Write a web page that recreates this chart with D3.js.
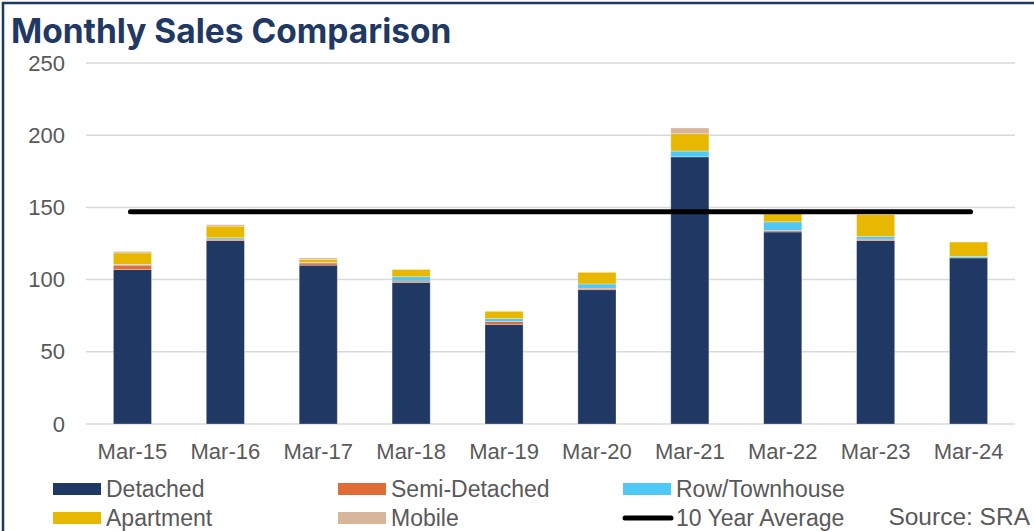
<!DOCTYPE html>
<html>
<head>
<meta charset="utf-8">
<script src="https://cdn.jsdelivr.net/npm/d3@7"></script>
<style>
  body { margin: 0; background: #fff; }
  svg { display: block; }
  .tick text { font-family: "Liberation Sans", Arial, sans-serif; font-size: 22px; fill: #595959; }
  .legend text { font-family: "Liberation Sans Narrow", "Liberation Sans", sans-serif; font-size: 23px; fill: #595959; }
</style>
</head>
<body>
<div class="chart"></div>
<script>
// data
var months = ["Mar-15", "Mar-16", "Mar-17", "Mar-18", "Mar-19", "Mar-20", "Mar-21", "Mar-22", "Mar-23", "Mar-24"];
var detached = [107, 127, 110, 98, 69, 93, 185, 133, 127, 115];
var semiDetached = [3, 1, 1.5, 1, 2, 1, 0, 1, 1, 0];
var rowTownhouse = [0.5, 1, 0.5, 3, 2, 3, 4, 6, 2, 1];
var apartment = [8, 8, 2, 5, 5, 8, 12, 6, 15, 10];
var mobile = [1, 1, 1, 0, 0, 0, 4, 0, 0, 0];
var tenYearAverage = 147;
var yTicks = [0, 50, 100, 150, 200, 250];

var seriesNames = ["Detached", "Semi-Detached", "Row/Townhouse", "Apartment", "Mobile"];
var seriesValues = [detached, semiDetached, rowTownhouse, apartment, mobile];
var colors = ["#203864", "#E06D38", "#4FC8F5", "#E8B800", "#D6B59A"];

// dimensions
var W = 1034, H = 531;
var margin = {top: 63, right: 19, bottom: 107, left: 86};
var width = W - margin.left - margin.right;
var height = H - margin.top - margin.bottom;

var svg = d3.select(".chart")
  .append("svg")
  .attr("width", W)
  .attr("height", H);

// frame
svg.append("path")
  .attr("d", "M3," + H + "V3H" + W)
  .attr("fill", "none")
  .attr("stroke", "#1F3864")
  .attr("stroke-width", 2.5);

// title
svg.append("text")
  .attr("x", 11)
  .attr("y", 43)
  .attr("font-family", "Inter, 'Noto Sans', sans-serif")
  .attr("font-weight", 700)
  .attr("font-size", 33.5)
  .attr("fill", "#1F3864")
  .text("Monthly Sales Comparison");

var chart = svg.append("g")
  .attr("transform", "translate(" + margin.left + "," + margin.top + ")");

// scales
var x = d3.scaleBand().domain(months).range([0, width]).paddingInner(0.59).paddingOuter(0.295);
var y = d3.scaleLinear().domain([0, 250]).range([height, 0]);

// gridlines
chart.append("g")
  .selectAll("line")
  .data(yTicks)
  .enter()
  .append("line")
  .attr("x1", 0)
  .attr("x2", width)
  .attr("y1", function(d) { return y(d); })
  .attr("y2", function(d) { return y(d); })
  .attr("stroke", "#D9D9D9")
  .attr("stroke-width", 1.5);

// y axis
chart.append("g")
  .call(d3.axisLeft(y).tickValues(yTicks).tickSize(0).tickPadding(21))
  .call(function(g) { g.select(".domain").remove(); });

// x axis
chart.append("g")
  .attr("transform", "translate(0," + height + ")")
  .call(d3.axisBottom(x).tickSize(0).tickPadding(19))
  .call(function(g) { g.select(".domain").remove(); });

// stacked bars
var table = months.map(function(m, i) {
  var row = {month: m};
  seriesNames.forEach(function(s, k) { row[s] = seriesValues[k][i]; });
  return row;
});
var stacked = d3.stack().keys(seriesNames)(table);

chart.selectAll(".series")
  .data(stacked)
  .enter()
  .append("g")
  .attr("fill", function(d, i) { return colors[i]; })
  .selectAll("rect")
  .data(function(d) { return d; })
  .enter()
  .append("rect")
  .attr("x", function(d) { return x(d.data.month); })
  .attr("y", function(d) { return y(d[1]); })
  .attr("width", x.bandwidth())
  .attr("height", function(d) { return y(d[0]) - y(d[1]); })
  .attr("stroke", "#ffffff")
  .attr("stroke-opacity", 0.35)
  .attr("stroke-width", 0.8);

// 10 year average line
chart.append("line")
  .attr("x1", x(months[0]) + x.bandwidth() / 2 - 2)
  .attr("x2", x(months[months.length - 1]) + x.bandwidth() / 2 + 2)
  .attr("y1", y(tenYearAverage))
  .attr("y2", y(tenYearAverage))
  .attr("stroke", "#000")
  .attr("stroke-width", 5)
  .attr("stroke-linecap", "round");

// legend
var legendItems = seriesNames.map(function(s, i) { return {name: s, color: colors[i], line: false}; });
legendItems.push({name: "10 Year Average", color: "#000", line: true});

var legend = svg.append("g").attr("class", "legend");
var item = legend.selectAll("g")
  .data(legendItems)
  .enter()
  .append("g")
  .attr("transform", function(d, i) {
    return "translate(" + (53 + (i % 3) * 285) + "," + (489 + Math.floor(i / 3) * 29) + ")";
  });

item.filter(function(d) { return !d.line; })
  .append("rect")
  .attr("x", 0)
  .attr("y", -6)
  .attr("width", 48)
  .attr("height", 12)
  .attr("fill", function(d) { return d.color; });

item.filter(function(d) { return d.line; })
  .append("line")
  .attr("x1", 2)
  .attr("x2", 48)
  .attr("stroke", "#000")
  .attr("stroke-width", 5)
  .attr("stroke-linecap", "round");

item.append("text")
  .attr("x", 53)
  .attr("y", 8)
  .text(function(d) { return d.name; });

// source
svg.append("text")
  .attr("x", 1030)
  .attr("y", 525)
  .attr("text-anchor", "end")
  .attr("font-family", "'Liberation Sans Narrow', 'Liberation Sans', sans-serif")
  .attr("font-size", 24.5)
  .attr("fill", "#595959")
  .text("Source: SRA");
</script>
</body>
</html>
